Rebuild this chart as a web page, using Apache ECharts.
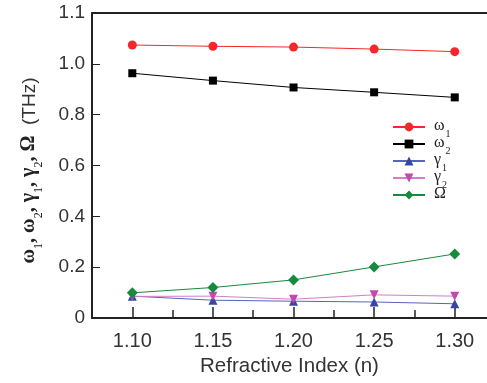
<!DOCTYPE html>
<html>
<head>
<meta charset="utf-8">
<script src="https://cdn.jsdelivr.net/npm/echarts@6/dist/echarts.min.js"></script>
<style>
html,body{margin:0;padding:0;background:#fff;}
#chart{width:487px;height:383px;}
</style>
</head>
<body>
<div id="chart"></div>
<script>
const xValues = [1.10, 1.15, 1.20, 1.25, 1.30];
const xMinorTicks = [1.125, 1.175, 1.225, 1.275];
const omega1 = [1.074, 1.069, 1.066, 1.058, 1.048];
const omega2 = [0.963, 0.934, 0.907, 0.888, 0.868];
const gamma1 = [0.086, 0.070, 0.066, 0.063, 0.056];
const gamma2 = [0.085, 0.086, 0.074, 0.091, 0.086];
const bigOmega = [0.099, 0.120, 0.150, 0.201, 0.252];
const yTickLabels = ["0", "0.2", "0.4", "0.6", "0.8", "1.0", "1.1"];
const xTitle = "Refractive Index (n)";

const pairs = arr => xValues.map((x, i) => [x, arr[i]]);

const chart = echarts.init(document.getElementById('chart'), null, {renderer: 'canvas'});
const axisColor = '#222';
const serif = '"Liberation Serif", "DejaVu Serif", serif';
const sans = '"Liberation Sans", Arial, sans-serif';

const legendRich = {
  g: {fontFamily: serif, fontSize: 16, color: '#222', lineHeight: 14, verticalAlign: 'bottom'},
  s: {fontFamily: serif, fontSize: 10, color: '#222', lineHeight: 10, verticalAlign: 'bottom', padding: [0, 0, -5, 1]}
};
const legendNames = {
  'ω1': '{g|ω}{s|1}',
  'ω2': '{g|ω}{s|2}',
  'γ1': '{g|γ}{s|1}',
  'γ2': '{g|γ}{s|2}',
  'Ω': '{g|Ω}'
};

function mk(name, data, color, symbol, size, lineColor) {
  return {
    name: name, type: 'line', data: pairs(data),
    xAxisIndex: 0, yAxisIndex: 0,
    symbol: symbol, symbolSize: size, showSymbol: true,
    lineStyle: {color: lineColor || color, width: 1},
    itemStyle: {color: color},
    emphasis: {disabled: true},
    animation: false
  };
}

chart.setOption({
  backgroundColor: '#fff',
  animation: false,
  grid: {left: 92, right: 0, top: 13, bottom: 65},
  legend: {
    orient: 'vertical', left: 387, top: 113,
    itemWidth: 32, itemHeight: 11, itemGap: -4,
    formatter: n => legendNames[n],
    textStyle: {rich: legendRich, padding: [0, 0, 0, 4]},
    data: ['ω1', 'ω2', 'γ1', 'γ2', 'Ω']
  },
  xAxis: [
    {
      type: 'value', min: 1.075, max: 1.32, position: 'bottom',
      axisLine: {show: true, onZero: false, lineStyle: {color: axisColor, width: 2}},
      axisTick: {show: true, inside: true, length: 11, customValues: xValues, lineStyle: {color: axisColor, width: 1.5}},
      axisLabel: {show: true, customValues: xValues, formatter: v => v.toFixed(2), color: '#333', fontFamily: sans, fontSize: 20, margin: 13},
      splitLine: {show: false},
      name: xTitle, nameLocation: 'middle', nameGap: 38,
      nameTextStyle: {color: '#333', fontFamily: sans, fontSize: 20.5}
    },
    {
      type: 'value', min: 1.075, max: 1.32, position: 'bottom',
      axisLine: {show: false},
      axisTick: {show: true, inside: true, length: 8, customValues: xMinorTicks, lineStyle: {color: axisColor, width: 1.5}},
      axisLabel: {show: false},
      splitLine: {show: false}
    },
    {
      type: 'value', min: 1.075, max: 1.32, position: 'top',
      axisLine: {show: true, onZero: false, lineStyle: {color: axisColor, width: 2}},
      axisTick: {show: false}, axisLabel: {show: false}, splitLine: {show: false}
    }
  ],
  yAxis: {
    type: 'value', min: 0, max: 1.2, interval: 0.2,
    axisLine: {show: true, onZero: false, lineStyle: {color: axisColor, width: 2}},
    axisTick: {show: true, inside: true, length: 8, lineStyle: {color: axisColor, width: 1}},
    axisLabel: {
      color: '#333', fontFamily: sans, fontSize: 19, margin: 7,
      formatter: v => yTickLabels[Math.round(v / 0.2)]
    },
    splitLine: {show: false},
    name: '{g|ω}{s|1}{g|, ω}{s|2}{g|, γ}{s|1}{g|, γ}{s|2}{g|, }{b|Ω}{t|  (THz)}',
    nameLocation: 'middle', nameRotate: 90, nameGap: 53,
    nameTextStyle: {
      padding: [0, 0, 0, -10],
      rich: {
        g: {fontFamily: serif, fontSize: 20, fontWeight: 'bold', color: '#222', lineHeight: 22, verticalAlign: 'bottom'},
        s: {fontFamily: serif, fontSize: 12, color: '#222', lineHeight: 12, verticalAlign: 'bottom', padding: [0, 0, -6, 0]},
        b: {fontFamily: serif, fontSize: 20, fontWeight: 'bold', color: '#222', lineHeight: 22, verticalAlign: 'bottom'},
        t: {fontFamily: sans, fontSize: 19, color: '#333', lineHeight: 22, verticalAlign: 'bottom'}
      }
    }
  },
  series: [
    mk('ω1', omega1, '#f2282b', 'circle', 9),
    mk('ω2', omega2, '#000000', 'rect', 8),
    mk('γ1', gamma1, '#3447a3', 'triangle', 9, '#5566b8'),
    mk('γ2', gamma2, '#c04aae', 'path://M0,0 L10,0 L5,9 Z', 9, '#d27ec8'),
    mk('Ω', bigOmega, '#178a3e', 'diamond', 11)
  ]
});
</script>
</body>
</html>
